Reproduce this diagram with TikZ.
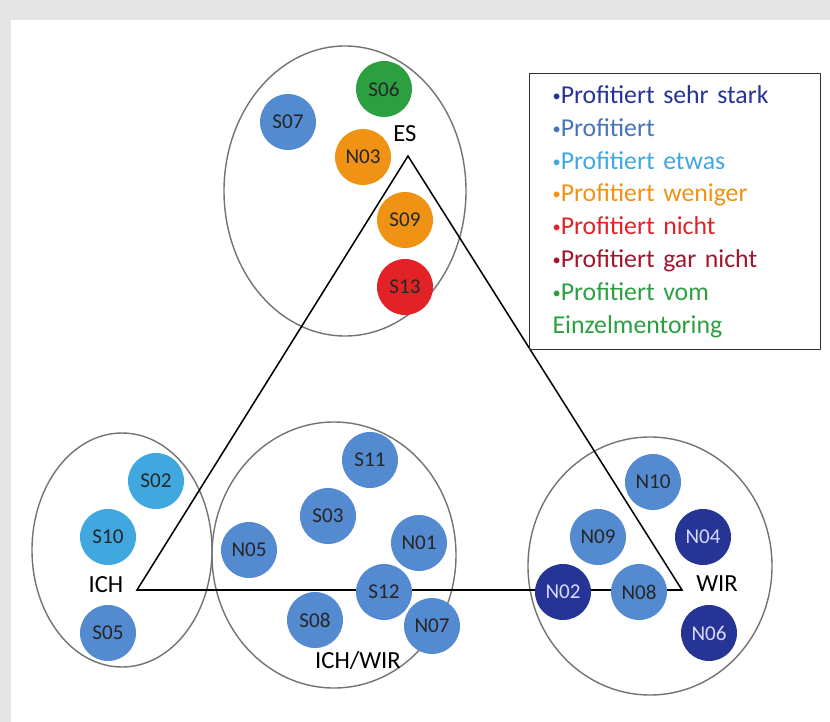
\documentclass[tikz,border=0pt]{standalone}
\usepackage{fontspec}
\setmainfont{Carlito}
\usepackage{xcolor}
\definecolor{sehrstark}{RGB}{38,52,150}
\definecolor{profit}{RGB}{84,138,208}
\definecolor{etwas}{RGB}{64,168,222}
\definecolor{weniger}{RGB}{240,146,20}
\definecolor{nicht}{RGB}{226,34,38}
\definecolor{garnicht}{RGB}{160,22,44}
\definecolor{einzel}{RGB}{44,160,64}
\newcommand{\pkt}{{\fontsize{14}{14}\selectfont\raisebox{0.12em}{•}}}
\tikzset{
  every picture/.style={line join=round, line cap=round},
  pers/.style={shape=circle, minimum size=1.68cm, inner sep=0pt, font=\fontsize{18}{20}\selectfont, text=black!85},
  dunkel/.style={pers, fill=sehrstark, text=white!85!blue},
  gruppe/.style={draw=black!55, line width=1.2pt},
  ecke/.style={font=\fontsize{21}{23}\selectfont},
}
\begin{document}
\begin{tikzpicture}[x=0.03cm, y=-0.03cm]
\useasboundingbox (0,0) rectangle (830,722);
\fill[black!10] (0,0) rectangle (830,722);
\fill[white] (11,20) rectangle (830,722);
% groups
\draw[gruppe] (345,191) ellipse [x radius=121, y radius=145];
\draw[gruppe] (122,550) ellipse [x radius=90, y radius=117];
\draw[gruppe] (334,555) ellipse [x radius=122, y radius=133];
\draw[gruppe] (650,566) ellipse [x radius=122, y radius=129];
% triangle
\coordinate (es) at (408,156);
\coordinate (ich) at (137,590);
\coordinate (wir) at (682,590);
\draw[line width=1.3pt, line join=miter] (es)--(ich)--(wir)--cycle;
\node[ecke] (lES) at (405,134) {ES};
\node[ecke] (lICH) at (106,585) {ICH};
\node[ecke] (lWIR) at (717,584) {WIR};
\node[ecke] (lICHWIR) at (358,660) {ICH/WIR};
% ES
\node[pers, fill=einzel] (S06) at (384,89) {S06};
\node[pers, fill=profit] (S07) at (288,122) {S07};
\node[pers, fill=weniger] (N03) at (363,157) {N03};
\node[pers, fill=weniger] (S09) at (405,220) {S09};
\node[pers, fill=nicht] (S13) at (405,287) {S13};
% ICH
\node[pers, fill=etwas] (S02) at (156,481) {S02};
\node[pers, fill=etwas] (S10) at (108,537) {S10};
\node[pers, fill=profit] (S05) at (108,633) {S05};
% ICH/WIR
\node[pers, fill=profit] (S11) at (370,460) {S11};
\node[pers, fill=profit] (S03) at (328,516) {S03};
\node[pers, fill=profit] (N05) at (249,550) {N05};
\node[pers, fill=profit] (N01) at (419,543) {N01};
\node[pers, fill=profit] (S12) at (384,592) {S12};
\node[pers, fill=profit] (S08) at (315,620) {S08};
\node[pers, fill=profit] (N07) at (432,626) {N07};
% WIR
\node[pers, fill=profit] (N10) at (653,482) {N10};
\node[pers, fill=profit] (N09) at (598,537) {N09};
\node[dunkel] (N04) at (703,537) {N04};
\node[dunkel] (N02) at (563,592) {N02};
\node[pers, fill=profit] (N08) at (639,592) {N08};
\node[dunkel] (N06) at (709,633) {N06};
% legend
\node[draw=black!80, line width=1pt, anchor=north west, align=left, text width=7.35cm,
  inner xsep=0.69cm, inner ysep=0.15cm, minimum height=8.28cm,
  font=\fontsize{22}{28}\selectfont] (legende) at (529,73)
  {\textcolor{sehrstark}{\pkt Profitiert sehr stark}\\
   \textcolor{profit!85!black}{\pkt Profitiert}\\
   \textcolor{etwas}{\pkt Profitiert etwas}\\
   \textcolor{weniger}{\pkt Profitiert weniger}\\
   \textcolor{nicht}{\pkt Profitiert nicht}\\
   \textcolor{garnicht}{\pkt Profitiert gar nicht}\\
   \textcolor{einzel}{\pkt Profitiert vom}\\
   \textcolor{einzel}{Einzelmentoring}};
\end{tikzpicture}
\end{document}
